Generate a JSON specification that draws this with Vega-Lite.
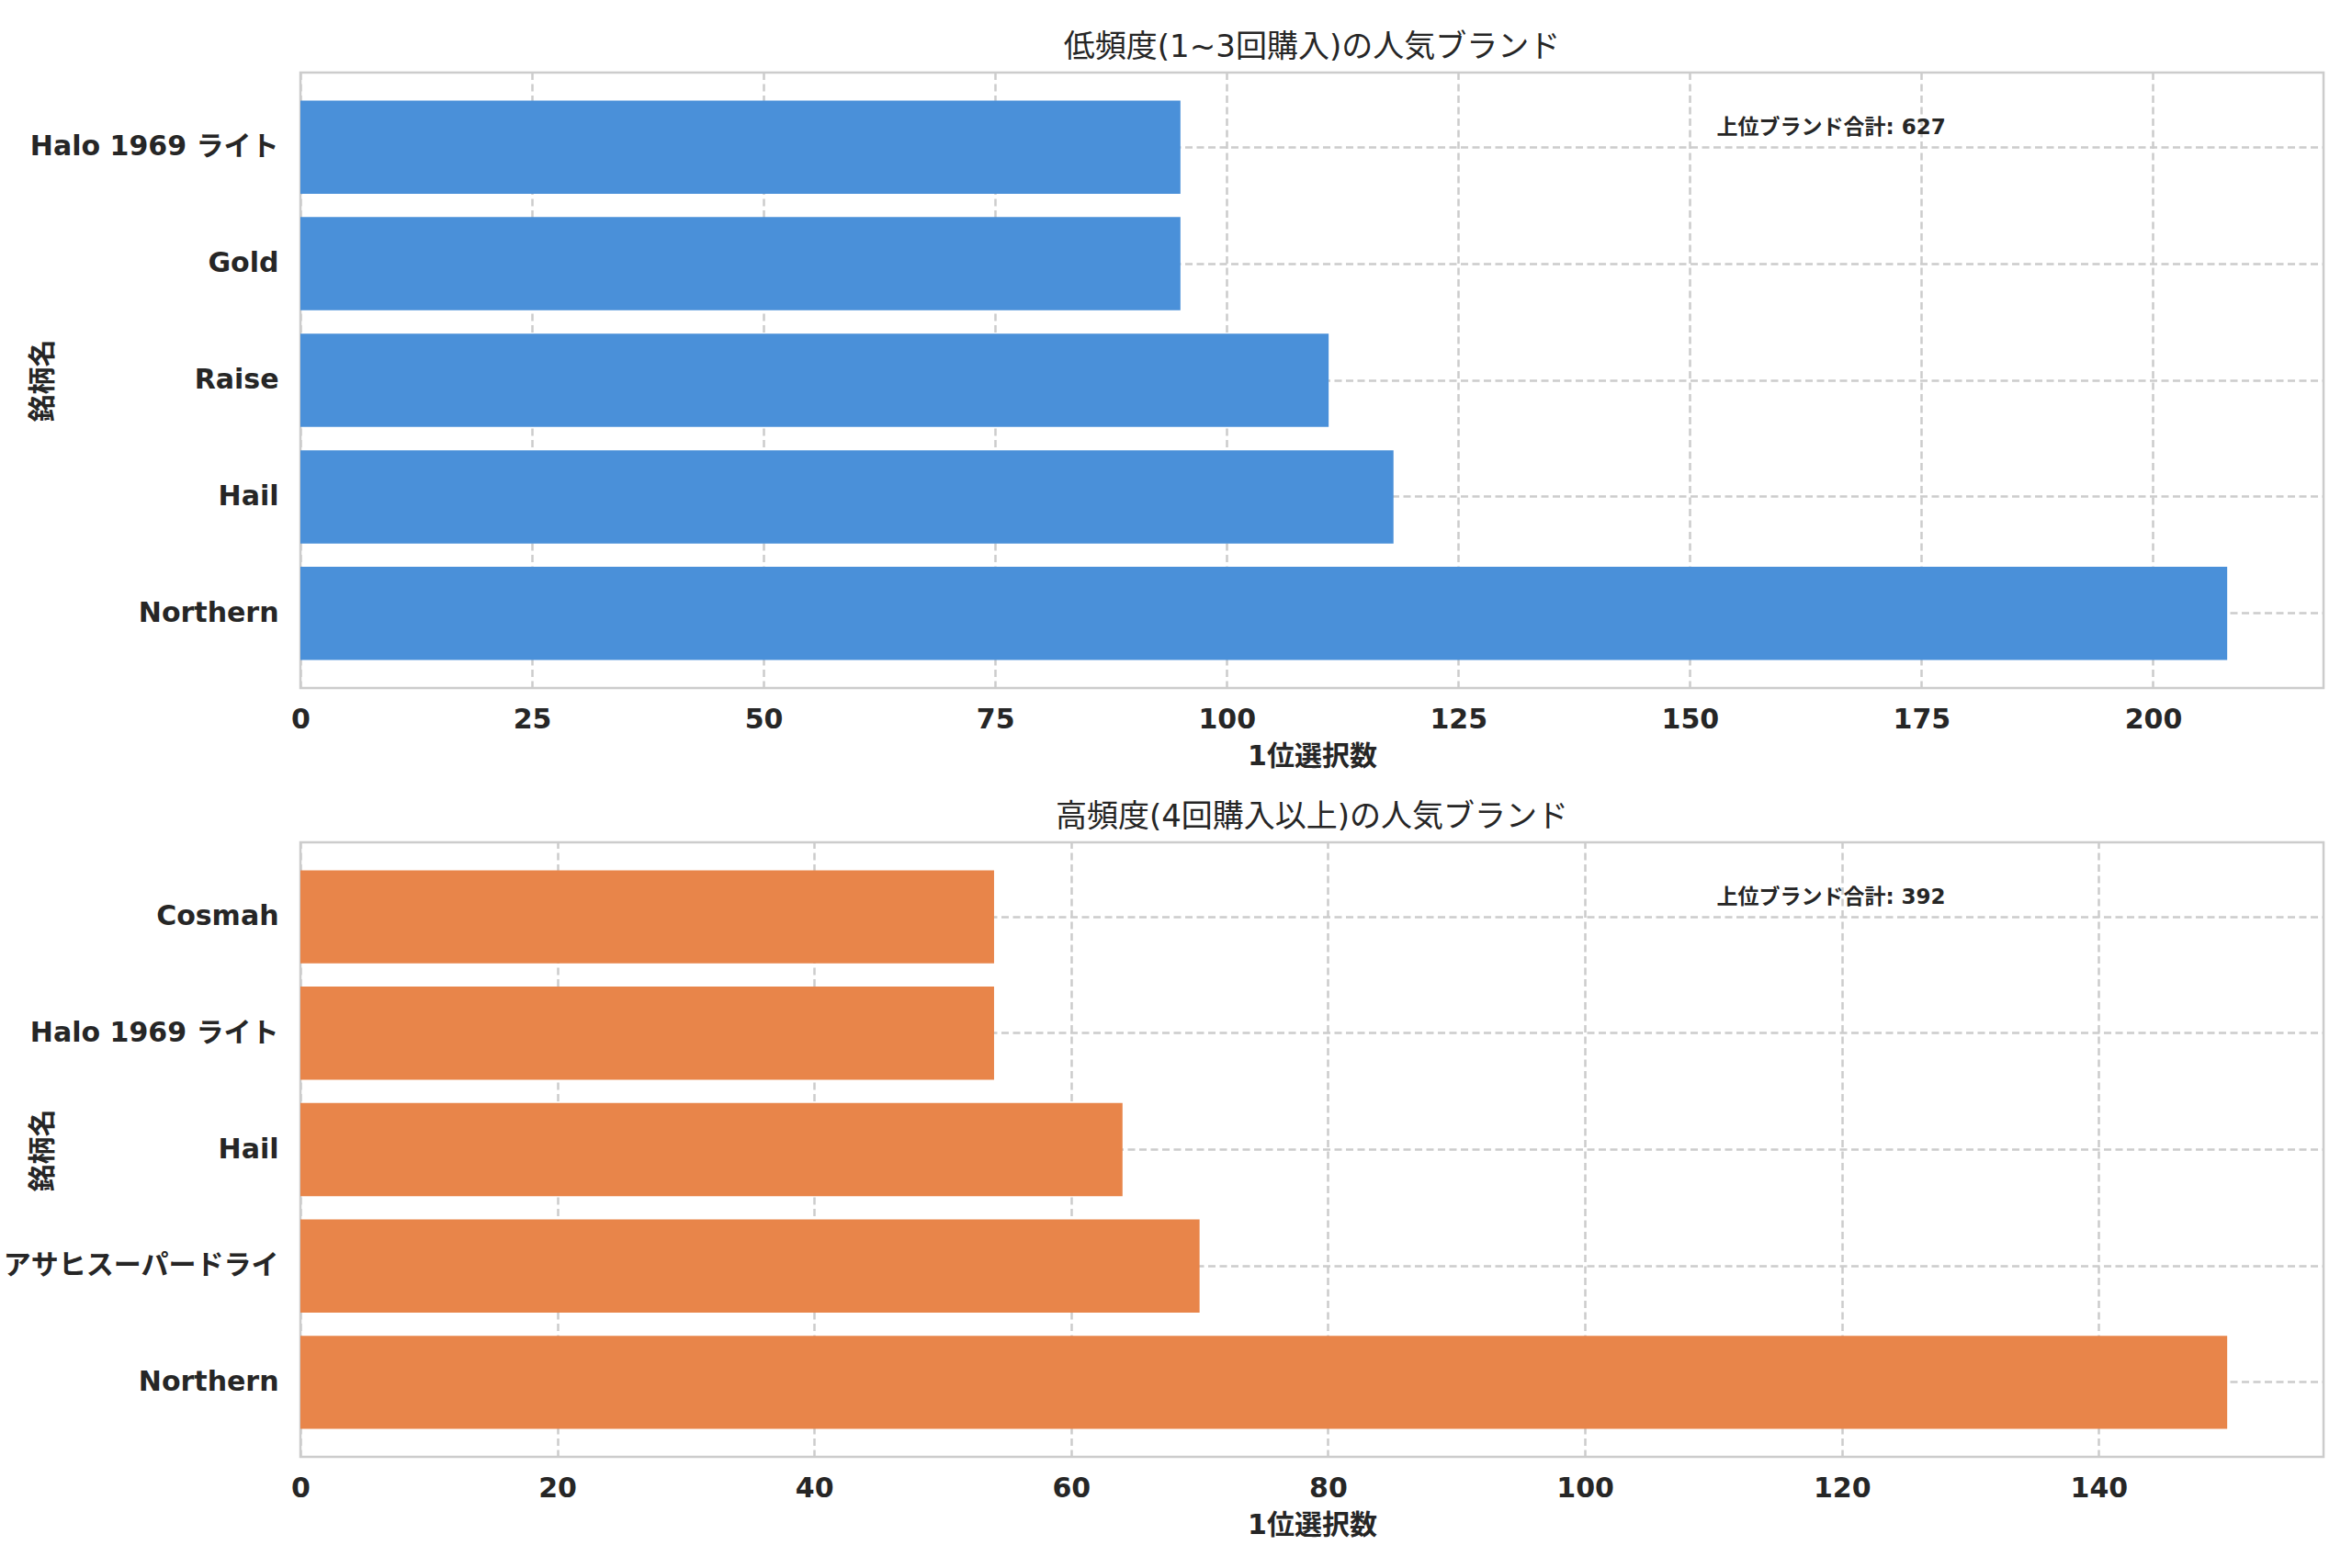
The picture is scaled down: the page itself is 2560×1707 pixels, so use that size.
{
  "$schema": "https://vega.github.io/schema/vega-lite/v6.json",
  "background": "white",
  "padding": {"left": 1, "top": 33, "right": 31, "bottom": 20},
  "config": {
    "font": "DejaVu Sans, Noto Sans CJK JP",
    "view": {"stroke": "#cccccc", "strokeWidth": 2.5},
    "axis": {
      "labelFont": "DejaVu Sans, Noto Sans CJK JP",
      "labelFontSize": 30,
      "labelFontWeight": "bold",
      "labelColor": "#262626",
      "labelLimit": 0,
      "labelFlush": false,
      "titleFont": "DejaVu Sans, Noto Sans CJK JP",
      "titleFontSize": 30,
      "titleFontWeight": "bold",
      "titleColor": "#262626",
      "tickSize": 0,
      "domain": false,
      "grid": true,
      "gridColor": "#cccccc",
      "gridDash": [8, 4.5],
      "gridWidth": 2.5
    },
    "title": {"fontSize": 34, "fontWeight": "normal", "color": "#262626", "offset": 10}
  },
  "data": {
    "values": [
      {"group": "low", "brand": "Halo 1969 ライト", "count": 95},
      {"group": "low", "brand": "Gold", "count": 95},
      {"group": "low", "brand": "Raise", "count": 111},
      {"group": "low", "brand": "Hail", "count": 118},
      {"group": "low", "brand": "Northern", "count": 208},
      {"group": "high", "brand": "Cosmah", "count": 54},
      {"group": "high", "brand": "Halo 1969 ライト", "count": 54},
      {"group": "high", "brand": "Hail", "count": 64},
      {"group": "high", "brand": "アサヒスーパードライ", "count": 70},
      {"group": "high", "brand": "Northern", "count": 150}
    ]
  },
  "bounds": "flush",
  "spacing": 168,
  "vconcat": [
    {
      "width": 2202,
      "height": 670,
      "title": "低頻度(1~3回購入)の人気ブランド",
      "transform": [{"filter": "datum.group === 'low'"}],
      "encoding": {
        "y": {
          "field": "brand",
          "type": "nominal",
          "scale": {
            "domain": ["Halo 1969 ライト", "Gold", "Raise", "Hail", "Northern"],
            "paddingInner": 0.2,
            "paddingOuter": 0.24
          },
          "axis": {"title": "銘柄名", "labelPadding": 24, "bandPosition": 0.5, "titleX": -266, "titleY": 335}
        },
        "x": {
          "field": "count",
          "type": "quantitative",
          "scale": {"domain": [0, 218.4], "nice": false},
          "axis": {"title": "1位選択数", "values": [0, 25, 50, 75, 100, 125, 150, 175, 200], "labelPadding": 19, "titlePadding": 10}
        }
      },
      "layer": [
        {"mark": {"type": "bar", "color": "#4A90D9"}},
        {
          "transform": [{"filter": "datum.brand === 'Northern'"}],
          "mark": {"type": "text", "align": "left", "baseline": "middle", "fontSize": 23, "fontWeight": "bold", "color": "#262626", "dy": -21},
          "encoding": {
            "x": {"datum": 152.9},
            "y": {"datum": "Halo 1969 ライト"},
            "text": {"value": "上位ブランド合計: 627"}
          }
        }
      ]
    },
    {
      "width": 2202,
      "height": 669,
      "title": "高頻度(4回購入以上)の人気ブランド",
      "transform": [{"filter": "datum.group === 'high'"}],
      "encoding": {
        "y": {
          "field": "brand",
          "type": "nominal",
          "scale": {
            "domain": ["Cosmah", "Halo 1969 ライト", "Hail", "アサヒスーパードライ", "Northern"],
            "paddingInner": 0.2,
            "paddingOuter": 0.24
          },
          "axis": {"title": "銘柄名", "labelPadding": 24, "bandPosition": 0.5, "titleX": -266, "titleY": 335}
        },
        "x": {
          "field": "count",
          "type": "quantitative",
          "scale": {"domain": [0, 157.5], "nice": false},
          "axis": {"title": "1位選択数", "values": [0, 20, 40, 60, 80, 100, 120, 140], "labelPadding": 19, "titlePadding": 10}
        }
      },
      "layer": [
        {"mark": {"type": "bar", "color": "#E8854A"}},
        {
          "transform": [{"filter": "datum.brand === 'Northern'"}],
          "mark": {"type": "text", "align": "left", "baseline": "middle", "fontSize": 23, "fontWeight": "bold", "color": "#262626", "dy": -21},
          "encoding": {
            "x": {"datum": 110.25},
            "y": {"datum": "Cosmah"},
            "text": {"value": "上位ブランド合計: 392"}
          }
        }
      ]
    }
  ]
}
